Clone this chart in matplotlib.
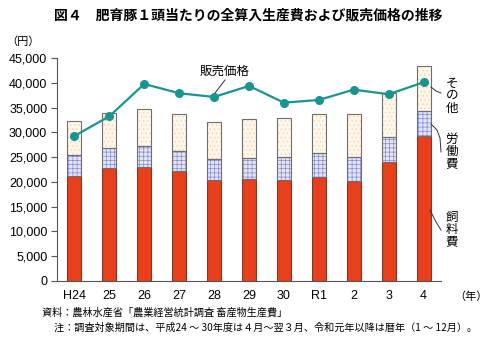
import matplotlib
matplotlib.use("Agg")
import matplotlib.pyplot as plt
import numpy as np

plt.rcParams['font.family'] = ['Liberation Sans', 'Noto Sans CJK JP', 'DejaVu Sans']

years = ["H24", "25", "26", "27", "28", "29", "30", "R1", "2", "3", "4"]
feed = [21190, 22870, 23070, 22200, 20380, 20520, 20450, 20930, 20240, 24030, 29290]
labor = [4190, 3990, 4130, 4050, 4250, 4310, 4620, 4850, 4730, 4990, 5060]
other = [6880, 7140, 7490, 7550, 7550, 7900, 7800, 7960, 8710, 8910, 9170]
price = [29290, 33270, 39810, 37930, 37180, 39410, 36030, 36570, 38660, 37730, 40150]

yticks = [0, 5000, 10000, 15000, 20000, 25000, 30000, 35000, 40000, 45000]

plt.rcParams['hatch.linewidth'] = 0.45

fig = plt.figure(figsize=(5.0, 3.38), dpi=100)
ax = fig.add_axes([0.114, 0.1695, 0.768, 0.658])

x = np.arange(len(years))
w = 0.4
feed = np.array(feed)
labor = np.array(labor)
other = np.array(other)

edge = "#6e6e6e"
# feed cost
ax.bar(x, feed, w, color="#E8401C", edgecolor="#7a3a2a", linewidth=0.8, zorder=2)
# labor cost: lavender with fine blue grid
ax.bar(x, labor, w, bottom=feed, color="#E4E4F4", edgecolor="#7C84D2",
       hatch="++++", linewidth=0, zorder=2)
ax.bar(x, labor, w, bottom=feed, fill=False, edgecolor=edge, linewidth=0.8, zorder=3)
# other costs: cream with faint orange dots
ax.bar(x, other, w, bottom=feed + labor, color="#FFF7EA", edgecolor="#F6CFA6",
       hatch="....", linewidth=0, zorder=2)
ax.bar(x, other, w, bottom=feed + labor, fill=False, edgecolor=edge, linewidth=0.8, zorder=3)

# sales price line
ax.plot(x, price, color="#1A9490", linewidth=1.6, marker="o", markersize=5.5, zorder=4)

ax.set_xlim(-0.5, len(years) - 0.5)
ax.set_ylim(0, 45000)
ax.set_yticks(yticks)
ax.set_yticklabels([f"{v:,}" for v in yticks], fontsize=9)
ax.set_xticks(x)
ax.set_xticklabels(years, fontsize=9)
ax.tick_params(axis="x", length=0, pad=7)
ax.tick_params(axis="y", length=4, color="#555555", pad=3)
for s in ["top", "right"]:
    ax.spines[s].set_visible(False)
for s in ["left", "bottom"]:
    ax.spines[s].set_color("#555555")
    ax.spines[s].set_linewidth(0.8)

jp = ['Noto Sans CJK JP', 'DejaVu Sans']

fig.text(0.496, 0.953, "図４　肥育豚１頭当たりの全算入生産費および販売価格の推移",
         ha="center", va="center", fontsize=10, fontweight="bold", family=jp)
fig.text(0.012, 0.876, "（円）", ha="left", va="center", fontsize=8, family=jp)
fig.text(0.908, 0.121, "（年）", ha="left", va="center", fontsize=8, family=jp)

fig.text(0.084, 0.074, "資料：農林水産省「農業経営統計調査 畜産物生産費」",
         ha="left", va="center", fontsize=7.3, family=jp)
fig.text(0.108, 0.030, "注：調査対象期間は、平成24 ～ 30年度は４月～翌３月、令和元年以降は暦年（1 ～ 12月）。",
         ha="left", va="center", fontsize=7.3, family=jp)

# series labels with leader lines (figure coordinates)
def fx(px):
    return px / 500.0

def fy(py):
    return 1 - py / 338.0

fig.text(fx(225), fy(71), "販売価格", ha="center", va="center", fontsize=9, family=jp)
fig.add_artist(plt.Line2D([fx(225), fx(215)], [fy(80), fy(93)], color="#333333", linewidth=0.7))

for label, ytop in [("その他", 77), ("労働費", 133), ("飼料費", 211)]:
    for i, ch in enumerate(label):
        fig.text(fx(452), fy(ytop + 6 + i * 12.5), ch, ha="center", va="center",
                 fontsize=9, family=jp)

fig.add_artist(plt.Line2D([fx(431), fx(436), fx(441)], [fy(87), fy(91), fy(93)],
                          color="#333333", linewidth=0.7))
fig.add_artist(plt.Line2D([fx(431), fx(437), fx(440), fx(441)], [fy(124), fy(130), fy(138), fy(152)],
                          color="#333333", linewidth=0.7))
fig.add_artist(plt.Line2D([fx(430), fx(436), fx(441)], [fy(210), fy(222), fy(230)],
                          color="#333333", linewidth=0.7))

fig.savefig("out.png", dpi=100)
